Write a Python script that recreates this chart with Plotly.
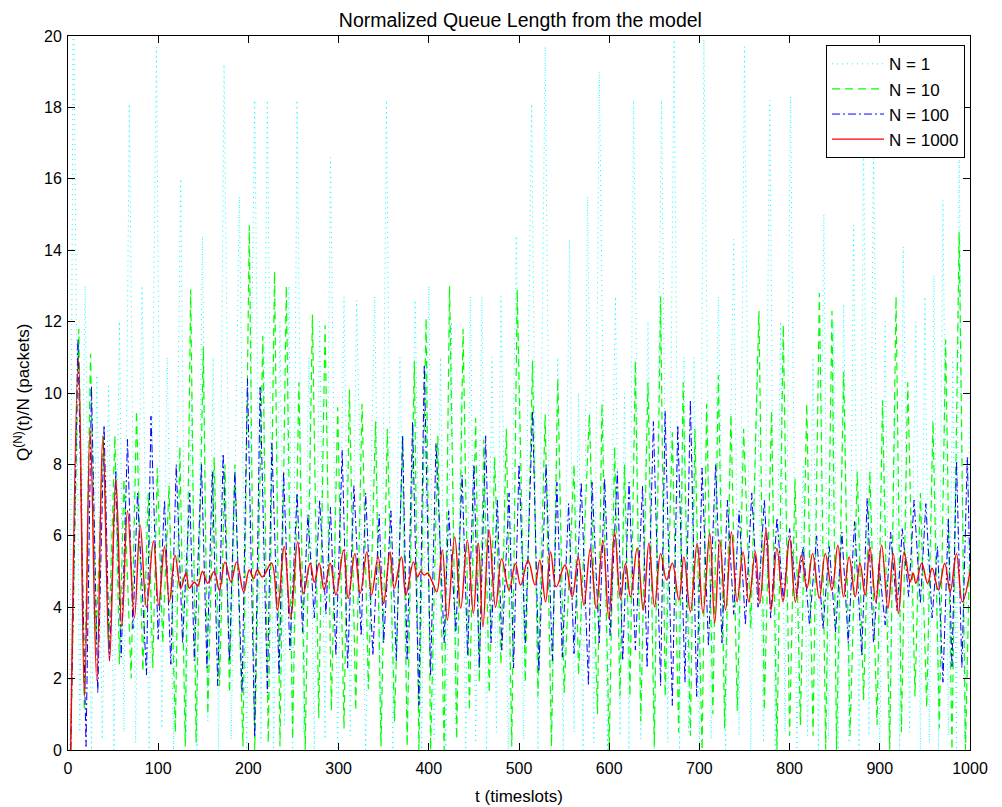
import plotly.graph_objects as go

# ---- data (extrema of each curve) ----
cyan_t = [2, 6, 13, 19, 26, 32, 38, 45, 51, 57, 62, 68, 75, 82, 90, 98, 104, 110, 117, 125,
          131, 137, 143, 149, 155, 161, 167, 173, 181, 190, 198, 207, 214, 221, 228, 235, 240, 245, 249, 254,
          261, 267, 273, 279, 285, 291, 299, 306, 313, 320, 330, 340, 347, 353, 360, 368, 376, 385, 392, 400,
          406, 413, 419, 425, 430, 436, 441, 446, 452, 459, 464, 470, 475, 480, 488, 497, 505, 514, 521, 529,
          536, 543, 549, 556, 561, 566, 571, 576, 583, 589, 598, 607, 612, 617, 622, 627, 635, 643, 650, 658,
          665, 672, 678, 683, 688, 694, 700, 705, 713, 721, 729, 738, 744, 750, 757, 764, 771, 778, 784, 790,
          795, 801, 808, 815, 820, 826, 832, 838, 843, 849, 854, 860, 866, 871, 877, 882, 888, 893, 900, 906,
          911, 917, 922, 926, 933, 940, 945, 950, 955, 960, 965, 970, 976, 981, 985, 988, 994, 1000]
cyan_q = [0, 22, 0.5, 13, 0, 10.5, 0.3, 10.2, 0, 12, 0.5, 18.1, 0.2, 13, 0, 19.7, 0.6, 11, 0, 16,
          0.4, 10, 0, 14.4, 0.8, 11, 0, 19.2, 0.3, 15.5, 0, 18.2, 0.2, 18.2, 0, 12, 0.7, 13, 0, 18.2,
          0.5, 11, 0, 12, 0.3, 16.6, 0, 12.7, 0.4, 12.6, 0, 12.7, 0.2, 18.2, 0, 11, 0.5, 12.6, 0, 13,
          0.3, 11, 0, 12, 0.6, 10, 0, 12.7, 0.2, 12.7, 0, 11, 0.5, 12.7, 0, 14.4, 0.3, 18.1, 0, 19.7,
          0.2, 11, 0, 14.3, 0.5, 10, 0, 15.5, 0.2, 19.0, 0, 12.7, 0.4, 10, 0, 18.2, 0.3, 12, 0, 18.2,
          0.2, 19.9, 0, 11, 0.5, 11, 0, 19.9, 0.3, 12.7, 0, 14.3, 0.4, 19.7, 0, 11, 0.2, 18.2, 0, 12,
          0.5, 18.3, 0, 8, 0.4, 11, 0, 15, 0.3, 12, 0, 12.5, 0.2, 14.7, 0, 17.1, 0.4, 17, 0, 12,
          0.3, 10, 0, 14.1, 0.5, 12, 0, 12.7, 0.2, 13.3, 0, 15.4, 0.4, 11, 0, 16.9, 0.3, 10]

green_t = [3, 12, 18, 25, 31, 39, 45, 52, 57, 62, 70, 76, 83, 89, 94, 99, 105, 112, 119, 124,
           130, 136, 142, 150, 155, 162, 168, 174, 179, 185, 194, 201, 207, 216, 222, 229, 235, 242, 249, 256,
           263, 271, 278, 285, 292, 299, 306, 312, 319, 326, 333, 341, 347, 354, 362, 371, 376, 384, 389, 397,
           402, 410, 417, 423, 431, 438, 445, 452, 456, 461, 467, 473, 480, 486, 492, 498, 507, 515, 521, 529,
           536, 543, 550, 561, 566, 578, 587, 592, 600, 606, 612, 617, 623, 629, 635, 643, 650, 657, 662, 670,
           677, 682, 690, 695, 703, 708, 715, 721, 728, 735, 742, 749, 757, 766, 772, 780, 786, 793, 800, 806,
           812, 819, 826, 833, 840, 847, 852, 860, 867, 875, 882, 889, 897, 903, 911, 918, 924, 931, 939, 945,
           952, 959, 966, 973, 980, 988, 995, 1000]
green_q = [0, 11.8, 1.1, 11.1, 2.9, 8.8, 2.8, 8.8, 2.4, 7.6, 2.0, 9.5, 2.2, 7.2, 2.3, 7.9, 3.0, 7.4, 0.5, 8.5,
           0.1, 12.9, 0.2, 11.3, 1.0, 8.2, 1.8, 8.0, 1.6, 8.0, 0.1, 14.7, 0, 11.6, 0.2, 13.4, 0.1, 13.0, 0.3, 10.3,
           0, 12.2, 0.9, 11.9, 1.1, 9.6, 0.6, 10.1, 1.1, 9.7, 1.7, 9.2, 0.1, 9.0, 0.8, 8.8, 0.1, 10.9, 0, 12.1,
           0, 8.8, 0, 13.0, 0.3, 11.8, 1.1, 9.3, 1.9, 8.7, 1.6, 8.2, 2.4, 9.0, 0.1, 12.9, 1.9, 10.9, 1.5, 9.4,
           0.1, 10.4, 1.6, 8.0, 2.1, 9.4, 1.0, 9.7, 0, 8.5, 1.5, 8.0, 1.5, 10.9, 0.8, 10.3, 0.1, 12.7, 1.5, 8.9,
           0.5, 10.3, 0.4, 9.0, 0, 9.7, 1.0, 10.5, 0.6, 9.4, 1.1, 9.0, 3.4, 12.3, 1.1, 9.5, 0, 11.9, 0.4, 7.6,
           0.7, 9.7, 0.4, 12.8, 0, 12.3, 0, 10.6, 0.4, 7.8, 1.4, 7.8, 0.7, 9.8, 0, 12.7, 0.5, 10.3, 1.5, 7.2,
           1.2, 9.2, 0.6, 11.5, 0, 14.5, 0, 6.0]

blue_t = [3, 11, 20, 26, 33, 40, 46, 53, 59, 66, 72, 77, 87, 92, 100, 107, 114, 120, 127, 135,
          140, 148, 154, 160, 166, 172, 179, 185, 193, 199, 207, 213, 221, 226, 234, 239, 246, 254, 260, 266,
          273, 279, 286, 291, 297, 304, 310, 317, 325, 330, 338, 345, 350, 358, 364, 371, 376, 382, 389, 395,
          402, 408, 417, 422, 430, 437, 443, 450, 456, 463, 469, 476, 481, 489, 494, 500, 507, 515, 522, 530,
          537, 542, 548, 555, 561, 569, 577, 581, 589, 595, 601, 609, 615, 622, 629, 637, 642, 649, 657, 662,
          670, 676, 684, 690, 697, 703, 710, 718, 725, 731, 738, 744, 751, 758, 765, 772, 779, 786, 793, 800,
          808, 815, 822, 830, 837, 844, 851, 858, 865, 872, 880, 886, 893, 899, 906, 912, 919, 925, 932, 938,
          945, 951, 958, 964, 970, 976, 980, 985, 991, 997, 1000]
blue_q = [0, 11.5, 0.1, 10.2, 1.6, 9.1, 2.5, 7.8, 2.6, 8.7, 3.4, 7.2, 2.1, 9.35, 3.1, 7.0, 2.4, 8.0, 3.0, 7.2,
          2.5, 8.0, 2.3, 7.8, 1.8, 8.3, 2.5, 7.8, 1.6, 10.4, 0.35, 10.2, 1.6, 8.6, 2.1, 7.8, 2.8, 7.2, 3.3, 6.6,
          3.7, 7.0, 3.8, 6.8, 2.65, 8.4, 2.3, 7.4, 3.2, 7.2, 2.65, 6.6, 3.0, 6.7, 2.5, 8.8, 2.5, 9.2, 1.25, 10.8,
          2.1, 8.6, 3.0, 6.7, 3.3, 7.7, 2.65, 8.0, 2.3, 8.8, 3.0, 7.0, 2.8, 7.2, 2.3, 8.0, 3.0, 9.5, 2.2, 8.0,
          2.5, 7.5, 2.6, 6.9, 2.7, 7.5, 1.8, 7.5, 3.0, 7.6, 3.2, 7.8, 2.5, 7.5, 2.8, 7.4, 2.3, 9.2, 1.8, 9.5,
          1.25, 9.1, 1.9, 9.8, 1.5, 7.9, 2.9, 8.0, 3.0, 7.0, 3.8, 6.7, 3.5, 7.2, 4.0, 7.0, 3.7, 6.5, 4.2, 6.2,
          4.3, 5.7, 3.5, 6.0, 3.4, 5.7, 3.3, 6.1, 3.0, 6.4, 2.65, 7.05, 3.0, 5.2, 3.5, 6.1, 3.9, 6.2, 4.3, 7.0,
          4.1, 6.9, 3.7, 5.7, 1.9, 6.5, 2.3, 8.1, 2.3, 8.2, 5.0]

red_t = [3, 11.6, 18.3, 24.5, 31.9, 38.6, 46, 53, 59.6, 66, 73.6, 80, 87, 94.7, 100.5, 107, 112.4, 118.7, 125, 130.8,
         134.5, 140, 144, 149, 154.8, 162, 167.8, 174, 180.7, 187, 194.7, 201, 205.8, 210, 215.5, 225.7, 232.3, 239.7, 247, 254.5,
         261, 268.5, 273, 278.5, 284, 290.7, 297, 305.5, 310.6, 318, 324, 331.3, 336.5, 343.8, 349.8, 357, 361.6, 369.7, 374.5, 383,
         387.4, 391, 394.8, 398.5, 404, 408.8, 415, 420.6, 428.7, 435.4, 442.7, 449.4, 455, 460, 466.8, 474, 480.8, 489, 496, 501.8,
         510, 517.7, 523, 529.5, 535, 541.3, 551, 559, 565.7, 572, 579, 585.6, 593, 599.6, 606, 612.5, 618, 623.6, 631, 637.7,
         644, 650.3, 657, 663.6, 670, 677.2, 682.8, 690, 697.5, 704, 711.5, 717, 722.6, 729, 735.5, 741.8, 748.4, 754.7, 762, 767,
         774, 779.4, 786, 792.7, 800, 806.4, 813, 819.2, 825.5, 833, 839.5, 847, 853.5, 859.8, 866, 872.7, 878, 883.8, 889, 895.6,
         902, 909, 915, 920.7, 927, 933.6, 937, 940, 946.5, 953, 958, 965, 972, 978, 985, 991.5, 1000]
red_q = [0, 11.0, 1.5, 9.0, 1.95, 8.8, 2.5, 7.6, 3.45, 6.7, 3.7, 6.3, 4.0, 5.85, 4.05, 5.7, 4.15, 5.46, 4.53, 4.96,
         4.53, 4.7, 4.6, 5.0, 4.67, 5.0, 4.48, 5.27, 4.71, 5.27, 4.43, 5.04, 4.8, 5.04, 4.85, 5.23, 3.92, 5.7, 3.69, 5.83,
         4.39, 5.23, 4.7, 5.23, 4.48, 5.23, 4.34, 5.6, 4.25, 5.5, 4.39, 5.55, 4.34, 5.41, 4.1, 5.55, 4.53, 5.41, 4.34, 5.27,
         4.85, 5.0, 4.9, 4.95, 4.7, 4.43, 5.6, 3.64, 5.97, 3.97, 5.88, 3.83, 5.8, 3.45, 6.16, 4.0, 5.36, 4.48, 5.22, 4.62,
         5.32, 4.62, 5.32, 4.15, 5.55, 4.57, 5.18, 4.29, 5.41, 4.06, 5.64, 3.96, 5.88, 3.68, 6.11, 4.24, 5.22, 4.29, 5.65, 3.92,
         5.79, 4.01, 5.5, 4.76, 5.23, 4.2, 5.41, 3.87, 5.79, 3.83, 6.07, 3.55, 5.88, 3.92, 6.11, 4.15, 5.55, 4.15, 5.55, 4.1,
         6.2, 3.92, 5.65, 4.15, 5.93, 4.15, 5.46, 4.53, 5.5, 4.25, 5.5, 4.48, 5.74, 4.29, 5.41, 4.29, 5.23, 4.34, 5.69, 4.15,
         5.74, 3.97, 5.5, 3.83, 5.55, 4.71, 4.95, 4.67, 5.23, 4.67, 5.09, 4.48, 5.23, 4.43, 5.5, 4.15, 5.0]

series_names = ["N = 1", "N = 10", "N = 100", "N = 1000"]
x_ticks = [0, 100, 200, 300, 400, 500, 600, 700, 800, 900, 1000]
y_ticks = [0, 2, 4, 6, 8, 10, 12, 14, 16, 18, 20]

FONT = "Liberation Sans, Arial, Helvetica, sans-serif"

fig = go.Figure()
fig.add_trace(go.Scatter(x=cyan_t, y=cyan_q, mode="lines", name=series_names[0],
                         line=dict(color="#00FFFF", width=1, dash="1px,4px")))
fig.add_trace(go.Scatter(x=green_t, y=green_q, mode="lines", name=series_names[1],
                         line=dict(color="#00FF00", width=1.2, dash="8px,5px")))
fig.add_trace(go.Scatter(x=blue_t, y=blue_q, mode="lines", name=series_names[2],
                         line=dict(color="#0000FF", width=1, dash="8px,3px,2px,3px")))
fig.add_trace(go.Scatter(x=red_t, y=red_q, mode="lines", name=series_names[3],
                         line=dict(color="#FF0000", width=1.4, shape="spline", smoothing=1.1)))

axis_common = dict(showline=True, linecolor="black", linewidth=1, mirror="ticks",
                   ticks="inside", ticklen=7, tickcolor="black", showgrid=False, zeroline=False,
                   automargin=False,
                   tickfont=dict(size=16, color="black", family=FONT))

# The page body adds an 8px offset, so the figure is drawn 8px smaller.
fig.update_layout(
    width=994, height=799,
    margin=dict(l=60, r=32, t=28, b=57, autoexpand=False),
    paper_bgcolor="white", plot_bgcolor="white",
    font=dict(family=FONT, size=16, color="black"),
    title=dict(text="Normalized Queue Length from the model", x=0.5155, xanchor="center",
               y=1 - 5 / 799, yanchor="top", yref="container", pad=dict(t=0, b=0),
               font=dict(size=19.5, family=FONT, color="black")),
    xaxis=dict(range=[0, 1000], tickvals=x_ticks, ticktext=[str(v) for v in x_ticks],
               ticklabelstandoff=4,
               title=dict(text="t (timeslots)", standoff=13, font=dict(size=17, family=FONT)),
               **axis_common),
    yaxis=dict(range=[0, 20], tickvals=y_ticks, ticktext=[str(v) for v in y_ticks],
               ticklabelstandoff=2, **axis_common),
    annotations=[dict(text="Q<sup>(N)</sup>(t)/N (packets)", textangle=-90,
                      xref="paper", yref="paper", x=-46 / 902, y=0.5,
                      xanchor="center", yanchor="middle", showarrow=False,
                      font=dict(size=17, family=FONT, color="black"))],
    legend=dict(x=0.9945, y=0.987, xanchor="right", yanchor="top",
                bgcolor="white", bordercolor="black", borderwidth=1, itemwidth=52,
                font=dict(size=17, family=FONT, color="black"), tracegroupgap=0),
    showlegend=True,
)

fig.write_html("out.html")
